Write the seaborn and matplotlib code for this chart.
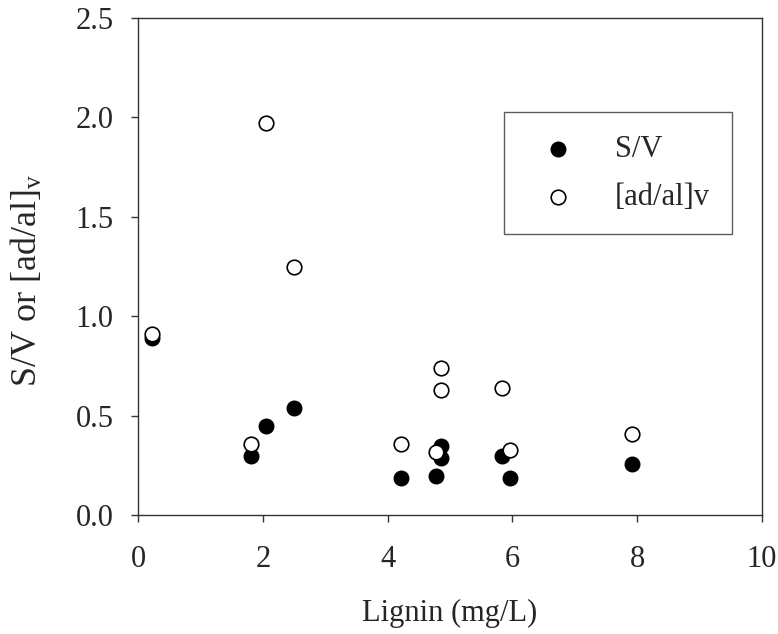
import numpy as np
import pandas as pd
import seaborn as sns
import matplotlib.pyplot as plt

# values
lignin = [0.22, 1.80, 2.05, 2.50, 4.21, 4.77, 4.85, 4.85, 5.84, 5.96, 7.92]
s_v = [0.89, 0.30, 0.45, 0.54, 0.19, 0.20, 0.35, 0.29, 0.30, 0.19, 0.26]
ad_al = [0.91, 0.36, 1.97, 1.25, 0.36, 0.32, 0.74, 0.63, 0.64, 0.33, 0.41]

x_ticks = [0, 2, 4, 6, 8, 10]
y_ticks = [0.0, 0.5, 1.0, 1.5, 2.0, 2.5]

sns.set_style("ticks")
plt.rcParams['font.family'] = ['Liberation Serif', 'DejaVu Serif']
plt.rcParams['mathtext.fontset'] = 'custom'
plt.rcParams['mathtext.rm'] = 'Liberation Serif'
plt.rcParams['mathtext.it'] = 'Liberation Serif:italic'

df = pd.DataFrame({"lignin": lignin, "sv": s_v, "adal": ad_al})

fig = plt.figure(figsize=(7.78, 6.34), dpi=100)
ax = fig.add_axes([0.178, 0.187, 0.801, 0.785])

sns.scatterplot(data=df, x="lignin", y="sv", ax=ax, s=110, color="black",
                edgecolor="black", linewidth=1, label="S/V", zorder=3)
sns.scatterplot(data=df, x="lignin", y="adal", ax=ax, s=110, facecolor="white",
                edgecolor="black", linewidth=1.2, label="[ad/al]v", zorder=4)

ax.set_xlim(0, 10)
ax.set_ylim(0, 2.5)
ax.set_xticks(x_ticks)
ax.set_yticks(y_ticks)
ax.set_xticklabels([str(t) for t in x_ticks])
ax.set_yticklabels(["%.1f" % t for t in y_ticks])
ax.tick_params(axis='both', labelsize=22, direction='out', length=5, width=1,
               color='#333333')
ax.tick_params(axis='x', pad=16)
ax.tick_params(axis='y', pad=13)

for sp in ax.spines.values():
    sp.set_visible(True)
    sp.set_color('#333333')
    sp.set_linewidth(1)

ax.set_xlabel("Lignin (mg/L)", fontsize=22, labelpad=18)
ax.set_ylabel(r"S/V or [ad/al]$_\mathrm{v}$", fontsize=26)
ax.yaxis.set_label_coords(-0.150, 0.472)

leg = ax.legend(loc='upper left', bbox_to_anchor=(0.648, 0.823),
                bbox_transform=fig.transFigure, fontsize=22, frameon=True,
                fancybox=False, edgecolor='#333333', borderpad=0.73,
                handletextpad=0.83, borderaxespad=0, labelspacing=0.64,
                markerscale=1.0, handlelength=2.07)
leg.get_frame().set_linewidth(1)

fig.savefig("out.png", dpi=100)
